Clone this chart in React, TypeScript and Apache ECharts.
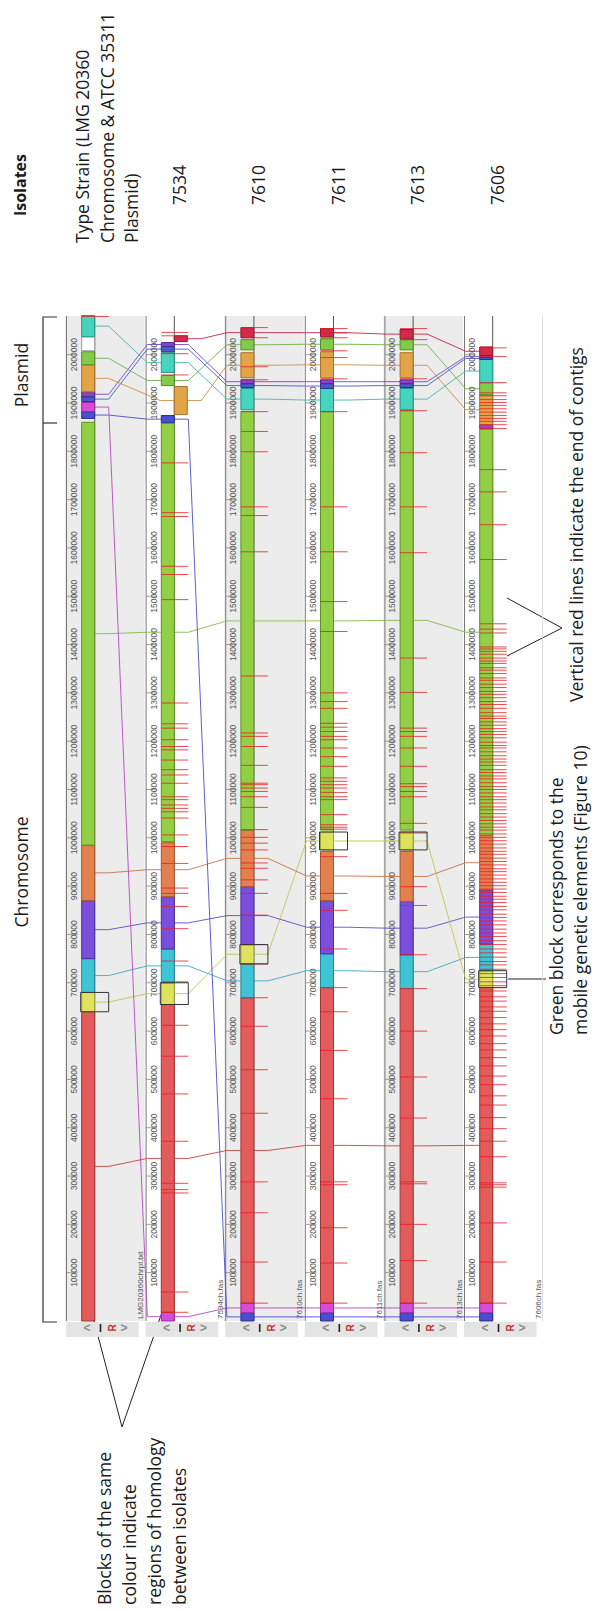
import React, { useEffect, useRef } from "react";
import * as echarts from "echarts";

// ---------------- data ----------------
const trackFiles = ["LMG20360chrpl.txt", "7534ch.fas", "7610ch.fas", "7611ch.fas", "7613ch.fas", "7606ch.fas"];
const typeStrainLines = ["Type Strain (LMG 20360", "Chromosome & ATCC 35311", "Plasmid)"];
const isolateNames = ["7534", "7610", "7611", "7613", "7606"];
const tickValues = [100000, 200000, 300000, 400000, 500000, 600000, 700000, 800000, 900000, 1000000,
  1100000, 1200000, 1300000, 1400000, 1500000, 1600000, 1700000, 1800000, 1900000, 2000000];
const YMAX = 2080000;

const lcbIds = ["R", "Y", "Cy", "Pu", "S", "G", "B1", "M", "B2", "P2", "tan", "G2", "W", "T", "C", "P3"];
const lcbFill = ["#e35b5b", "#dde35c", "#3fc4d6", "#7b4fdc", "#e2804f", "#93cf45", "#4a4fd0", "#d64bd8",
  "#4a58cc", "#8445cc", "#e2a447", "#80cc48", "#ffffff", "#46d4bf", "#d42a4a", "#a444c4"];
const lcbEdge = ["#a83434", "#9ea236", "#23879a", "#4b2aa0", "#a8552d", "#5f9224", "#2a2e94", "#962a98",
  "#2a3490", "#55268f", "#a8722a", "#4f8f28", "#999999", "#23968a", "#941530", "#702a8a"];
const lcbLine = ["#c04646", "#c2c64e", "#3fa8c0", "#6a48c8", "#c8744a", "#8ab850", "#4a50c8", "#b848c0",
  "#4a58c8", "#7848c0", "#c89048", "#70b050", "#bbbbbb", "#40b8a8", "#c02848", "#9040b0"];

// blocks: [lcb, start, end, inverted]
const blocksLMG = [
  ["R", 0, 640000, 0], ["Y", 640000, 680000, 0], ["Cy", 680000, 750000, 0], ["Pu", 750000, 870000, 0],
  ["S", 870000, 985000, 0], ["G", 985000, 1860000, 0], ["B1", 1868000, 1882000, 0], ["M", 1882000, 1901000, 0],
  ["B2", 1903000, 1913000, 0], ["P2", 1913000, 1923000, 0], ["tan", 1923000, 1979000, 0], ["G2", 1979000, 2006000, 0],
  ["W", 2008000, 2037000, 0], ["T", 2037000, 2081000, 0],
];
const blocks7534 = [
  ["M", 0, 18000, 0], ["R", 18000, 655000, 0], ["Y", 655000, 700000, 0], ["Cy", 700000, 770000, 0],
  ["Pu", 770000, 878000, 0], ["S", 878000, 990000, 0], ["G", 992000, 1859000, 0], ["B1", 1859000, 1874000, 0],
  ["tan", 1876000, 1934000, 1], ["G2", 1936000, 1957000, 0], ["T", 1963000, 2004000, 0], ["B2", 2006000, 2017000, 0],
  ["P2", 2017000, 2025000, 0], ["C", 2027000, 2039000, 1],
];
const blocks7610 = [
  ["B1", 0, 17000, 0], ["M", 17000, 37000, 0], ["R", 37000, 669000, 0], ["Cy", 669000, 739000, 0],
  ["Y", 739000, 779000, 0], ["Pu", 779000, 899000, 0], ["S", 899000, 1016000, 0], ["G", 1016000, 1882000, 0],
  ["T", 1886000, 1930000, 0], ["B2", 1932000, 1940000, 0], ["P2", 1940000, 1948000, 0], ["tan", 1952000, 2004000, 0],
  ["G2", 2010000, 2031000, 0], ["C", 2035000, 2056000, 0],
];
const blocks7611 = [
  ["B1", 0, 17000, 0], ["M", 17000, 37000, 0], ["R", 37000, 690000, 0], ["Cy", 690000, 760000, 0],
  ["Pu", 760000, 870000, 0], ["S", 870000, 972000, 0], ["Y", 975000, 1012000, 0], ["G", 1016000, 1882000, 0],
  ["T", 1882000, 1930000, 0], ["B2", 1930000, 1940000, 0], ["P2", 1940000, 1948000, 0], ["tan", 1952000, 2006000, 0],
  ["G2", 2010000, 2033000, 0], ["C", 2037000, 2054000, 0],
];
const blocks7613 = [
  ["B1", 0, 17000, 0], ["M", 17000, 37000, 0], ["R", 37000, 688000, 0], ["Cy", 688000, 758000, 0],
  ["Pu", 758000, 868000, 0], ["S", 868000, 972000, 0], ["Y", 975000, 1012000, 0], ["G", 1016000, 1884000, 0],
  ["T", 1886000, 1930000, 0], ["B2", 1932000, 1940000, 0], ["P2", 1940000, 1948000, 0], ["tan", 1952000, 2004000, 0],
  ["G2", 2010000, 2031000, 0], ["C", 2033000, 2052000, 0],
];
const blocks7606 = [
  ["B1", 0, 17000, 0], ["M", 17000, 37000, 0], ["R", 37000, 690000, 0], ["Y", 690000, 725000, 0],
  ["Cy", 725000, 780000, 0], ["Pu", 780000, 892000, 0], ["S", 892000, 1005000, 0], ["G", 1005000, 1846000, 0],
  ["P3", 1847000, 1855000, 0], ["tan", 1855000, 1917000, 0], ["G2", 1917000, 1942000, 0], ["T", 1942000, 1990000, 0],
  ["B2", 1990000, 1994000, 0], ["P2", 1994000, 1998000, 0], ["C", 1998000, 2016000, 0],
];
const trackBlocks = [blocksLMG, blocks7534, blocks7610, blocks7611, blocks7613, blocks7606];

// contig ends (red lines)
const contigsLMG = [2079000];
const contigs7534 = [2046000, 2039000, 2002000, 1958000, 1776000, 1673000, 1665000, 1562000, 1545000, 1493000,
  1279000, 1236000, 1227000, 1203000, 1189000, 1182000, 1161000, 1141000, 1130000, 1113000, 1085000, 1079000,
  1068000, 1061000, 1054000, 1041000, 1006000, 982000, 947000, 896000, 885000, 858000, 812000, 745000, 702000,
  655000, 612000, 548000, 470000, 372000, 285000, 272000, 265000, 60000, 18000];
const contigs7610 = [2056000, 2035000, 1975000, 1948000, 1882000, 1841000, 1799000, 1685000, 1667000, 1592000,
  1335000, 1217000, 1210000, 1189000, 1150000, 1113000, 1110000, 1103000, 1096000, 1085000, 1063000, 1017000,
  1001000, 989000, 975000, 948000, 937000, 913000, 885000, 840000, 779000, 739000, 669000, 610000, 520000,
  430000, 288000, 224000, 122000, 37000];
const contigs7611 = [2054000, 2045000, 2035000, 2008000, 1994000, 1950000, 1882000, 1685000, 1592000, 1489000,
  1427000, 1300000, 1282000, 1268000, 1237000, 1229000, 1220000, 1210000, 1203000, 1186000, 1168000, 1148000,
  1124000, 1117000, 1110000, 1103000, 1094000, 1085000, 1079000, 1048000, 1027000, 1022000, 1018000, 961000,
  885000, 850000, 770000, 690000, 640000, 560000, 460000, 288000, 282000, 193000, 120000, 37000];
const contigs7613 = [2054000, 2031000, 1950000, 1884000, 1797000, 1685000, 1590000, 1372000, 1301000, 1227000,
  1220000, 1210000, 1186000, 1148000, 1112000, 1106000, 1096000, 1085000, 1030000, 1010000, 899000, 860000,
  758000, 688000, 600000, 505000, 420000, 288000, 284000, 200000, 125000, 37000];
const contigs7606 = [2014000, 1996000, 1942000, 1921000, 1915000, 1907000, 1901000, 1895000, 1888000, 1881000,
  1874000, 1868000, 1862000, 1855000, 1847000, 1762000, 1716000, 1648000, 1576000, 1443000, 1432000, 1424000,
  1395000, 1391000, 1386000, 1380000, 1372000, 1366000, 1361000, 1352000, 1347000, 1340000, 1331000, 1326000,
  1318000, 1311000, 1303000, 1297000, 1290000, 1282000, 1276000, 1268000, 1259000, 1252000, 1247000, 1240000,
  1233000, 1226000, 1220000, 1214000, 1207000, 1198000, 1191000, 1186000, 1178000, 1170000, 1163000, 1157000,
  1150000, 1141000, 1135000, 1128000, 1122000, 1114000, 1106000, 1100000, 1093000, 1085000, 1079000, 1072000,
  1064000, 1058000, 1050000, 1043000, 1036000, 1029000, 1022000, 1016000, 1008000, 1001000, 994000, 987000,
  979000, 972000, 966000, 958000, 951000, 944000, 936000, 930000, 923000, 915000, 908000, 901000, 894000,
  887000, 879000, 873000, 866000, 858000, 851000, 842000, 835000, 828000, 820000, 811000, 803000, 796000,
  787000, 779000, 770000, 762000, 753000, 744000, 737000, 728000, 719000, 711000, 702000, 694000, 683000,
  671000, 662000, 650000, 641000, 628000, 615000, 603000, 590000, 574000, 561000, 545000, 528000, 507000,
  489000, 466000, 447000, 421000, 398000, 372000, 340000, 286000, 282000, 277000, 203000, 122000, 37000];
const trackContigs = [contigsLMG, contigs7534, contigs7610, contigs7611, contigs7613, contigs7606];

// ---------------- layout / style ----------------
const BAR_OFF = 16.7;
const BAR_W = 13;
const CONTIG_EXT = 14;
const RULER_OFF = 1.5;
const FONT = "'Open Sans'";
const ROT = Math.PI / 2;

function rotText(text: string, x: number, y: number, size: number, align: string, extra: any = {}) {
  return {
    type: "text", x, y, rotation: ROT,
    style: {
      text, fill: extra.fill || "#1a1a1a", fontSize: size, fontFamily: extra.family || FONT,
      fontWeight: extra.weight || "normal",
      align, textAlign: align, verticalAlign: "middle", textVerticalAlign: "middle",
    },
  };
}

function buildOption() {
  const panelData = trackFiles.map((_, i) => [i, 0]);
  const tickData: number[][] = [];
  trackFiles.forEach((_, i) => tickValues.forEach((v) => tickData.push([i, v])));
  const blockData: number[][] = [];
  trackBlocks.forEach((bl, i) => bl.forEach((b: any) => blockData.push([i, b[1], b[2], lcbIds.indexOf(b[0]), b[3]])));
  const boxData: number[][] = [];
  trackBlocks.forEach((bl, i) => bl.forEach((b: any) => { if (b[0] === "Y") boxData.push([i, b[1], b[2]]); }));
  const contigData: number[][] = [];
  trackContigs.forEach((cl, i) => cl.forEach((p) => contigData.push([i, p])));
  const connData: number[][] = [];
  for (let i = 0; i < trackBlocks.length - 1; i++) {
    trackBlocks[i].forEach((a: any) => {
      const b: any = trackBlocks[i + 1].find((x: any) => x[0] === a[0]);
      if (!b) return;
      connData.push([i, (a[1] + a[2]) / 2, (b[1] + b[2]) / 2, lcbIds.indexOf(a[0]), a[3], b[3]]);
    });
  }

  const panelSeries = {
    type: "custom", z: 1, silent: true, clip: false, data: panelData,
    renderItem: (params: any, api: any) => {
      const t = api.value(0);
      const top = api.coord([t, YMAX]);
      const bot = api.coord([t, 0]);
      const right = api.coord([t + 1, 0]);
      const x0 = top[0], x1 = right[0];
      const ch: any[] = [];
      if (t % 2 === 0) {
        ch.push({ type: "rect", shape: { x: x0, y: top[1], width: x1 - x0, height: bot[1] - top[1] }, style: { fill: "#ececec" } });
      }
      if (t === trackFiles.length - 1) {
        ch.push({ type: "line", shape: { x1: x1, y1: top[1], x2: x1, y2: bot[1] }, style: { stroke: "#dcdcdc", lineWidth: 1 } });
      }
      ch.push({ type: "line", shape: { x1: x0 + RULER_OFF, y1: top[1], x2: x0 + RULER_OFF, y2: bot[1] }, style: { stroke: "#777", lineWidth: 1 } });
      const cx = x0 + BAR_OFF + BAR_W;
      ch.push({ type: "line", shape: { x1: cx, y1: top[1], x2: cx, y2: bot[1] }, style: { stroke: "#555", lineWidth: 1 } });
      ch.push(rotText(trackFiles[t], x1 - 4, bot[1] - 2, 8, "left", { fill: "#555", family: "'Liberation Sans'" }));
      // controls strip
      const cy = bot[1] + 7;
      ch.push({ type: "rect", shape: { x: x0 + 1, y: bot[1] + 1, width: x1 - x0 - 7, height: 15 }, style: { fill: "#e4e4e4" } });
      ch.push({ type: "text", x: x0 + 22, y: cy, style: { text: "<", fill: "#8a8a8a", fontSize: 12, fontWeight: "bold", fontFamily: "'Liberation Sans'", align: "center", textAlign: "center", verticalAlign: "middle", textVerticalAlign: "middle" } });
      ch.push({ type: "line", shape: { x1: x0 + 35.5, y1: cy - 4, x2: x0 + 35.5, y2: cy + 4 }, style: { stroke: "#222", lineWidth: 1.6 } });
      ch.push(rotText("R", x0 + 47, cy, 10, "center", { fill: "#c03030", weight: "bold", family: "'Liberation Sans'" }));
      ch.push({ type: "text", x: x0 + 59, y: cy, style: { text: ">", fill: "#8a8a8a", fontSize: 12, fontWeight: "bold", fontFamily: "'Liberation Sans'", align: "center", textAlign: "center", verticalAlign: "middle", textVerticalAlign: "middle" } });
      return { type: "group", children: ch };
    },
  };

  const tickSeries = {
    type: "custom", z: 2, silent: true, clip: false, data: tickData,
    renderItem: (params: any, api: any) => {
      const t = api.value(0), v = api.value(1);
      const p = api.coord([t, v]);
      const rx = p[0] + RULER_OFF;
      return {
        type: "group", children: [
          { type: "line", shape: { x1: rx, y1: p[1], x2: rx + 11, y2: p[1] }, style: { stroke: "#888", lineWidth: 0.8 } },
          rotText(String(v), rx + 7.5, p[1], 8.5, "center", { fill: "#555", family: "'Liberation Sans'" }),
        ],
      };
    },
  };

  const connSeries = {
    type: "custom", z: 3, silent: true, clip: false, data: connData,
    renderItem: (params: any, api: any) => {
      const t = api.value(0);
      const pA = api.coord([t, api.value(1)]);
      const pB = api.coord([t + 1, api.value(2)]);
      const c = api.value(3);
      const xA = pA[0] + BAR_OFF + BAR_W * (1 + api.value(4));
      const xB = pB[0] + BAR_OFF + BAR_W * api.value(5);
      return {
        type: "polyline",
        shape: { points: [[xA, pA[1]], [xA + 14, pA[1]], [xB - 14, pB[1]], [xB, pB[1]]] },
        style: { stroke: lcbLine[c], lineWidth: 1, fill: null, opacity: 0.9 },
      };
    },
  };

  const blockSeries = {
    type: "custom", z: 4, silent: true, clip: false, data: blockData,
    renderItem: (params: any, api: any) => {
      const t = api.value(0);
      const p0 = api.coord([t, api.value(1)]);
      const p1 = api.coord([t, api.value(2)]);
      const c = api.value(3);
      const x = p0[0] + BAR_OFF + (api.value(4) ? BAR_W : 0);
      return {
        type: "rect",
        shape: { x, y: p1[1], width: BAR_W, height: Math.max(1, p0[1] - p1[1]) },
        style: { fill: lcbFill[c], stroke: lcbEdge[c], lineWidth: 1 },
      };
    },
  };

  const contigSeries = {
    type: "custom", z: 5, silent: true, clip: false, data: contigData,
    renderItem: (params: any, api: any) => {
      const t = api.value(0);
      const p = api.coord([t, api.value(1)]);
      const x = p[0] + BAR_OFF;
      return {
        type: "line",
        shape: { x1: x, y1: p[1], x2: x + BAR_W + CONTIG_EXT, y2: p[1] },
        style: { stroke: "#e41f26", lineWidth: 1, opacity: 0.8 },
      };
    },
  };

  const boxSeries = {
    type: "custom", z: 6, silent: true, clip: false, data: boxData,
    renderItem: (params: any, api: any) => {
      const t = api.value(0);
      const p0 = api.coord([t, api.value(1)]);
      const p1 = api.coord([t, api.value(2)]);
      const x = p0[0] + BAR_OFF - 1;
      return {
        type: "rect",
        shape: { x, y: p1[1], width: BAR_W + CONTIG_EXT + 1, height: p0[1] - p1[1] },
        style: { fill: null, stroke: "#333", lineWidth: 1 },
      };
    },
  };

  const g: any[] = [];
  g.push(rotText("Isolates", 20, 185, 16, "center", { weight: "bold" }));
  typeStrainLines.forEach((s, k) => g.push(rotText(s, 82 + 24.5 * k, 243, 17.5, "left")));
  isolateNames.forEach((s, k) => g.push(rotText(s, 65 + 79.6 * (k + 1) + 34, 185, 17.5, "center")));
  g.push(rotText("Plasmid", 21, 375, 17.5, "center"));
  g.push(rotText("Chromosome", 21, 872, 17.5, "center"));
  g.push({ type: "polyline", shape: { points: [[57, 317], [43, 317], [43, 1322], [57, 1322]] }, style: { stroke: "#333", lineWidth: 1.2, fill: null } });
  g.push({ type: "line", shape: { x1: 43, y1: 423, x2: 57, y2: 423 }, style: { stroke: "#333", lineWidth: 1.2 } });
  ["Blocks of the same", "colour indicate", "regions of homology", "between isolates"].forEach((s, k) =>
    g.push(rotText(s, 104 + 25 * k, 1605, 17.5, "left")));
  g.push({ type: "polyline", shape: { points: [[88, 1298], [122, 1427], [167, 1298]] }, style: { stroke: "#222", lineWidth: 1, fill: null } });
  g.push(rotText("Vertical red lines indicate the end of contigs", 576, 702, 17.5, "left"));
  g.push({ type: "polyline", shape: { points: [[507, 598], [562, 628], [507, 656]] }, style: { stroke: "#222", lineWidth: 1, fill: null } });
  g.push(rotText("Green block corresponds to the", 556, 1035, 17.5, "left"));
  g.push(rotText("mobile genetic elements (Figure 10)", 580, 1035, 17.5, "left"));
  g.push({ type: "line", shape: { x1: 508, y1: 979, x2: 546, y2: 979 }, style: { stroke: "#222", lineWidth: 1 } });

  return {
    animation: false,
    backgroundColor: "#ffffff",
    grid: { left: 65, top: 316, width: 477.6, height: 1005, containLabel: false },
    xAxis: { type: "value", min: 0, max: 6, show: false },
    yAxis: { type: "value", min: 0, max: YMAX, show: false },
    series: [panelSeries, tickSeries, connSeries, blockSeries, contigSeries, boxSeries],
    graphic: { elements: g },
  };
}

export default function App() {
  const ref = useRef<HTMLDivElement>(null);
  useEffect(() => {
    if (!ref.current) return;
    const chart = echarts.init(ref.current, null, { renderer: "svg" });
    chart.setOption(buildOption() as any);
    return () => chart.dispose();
  }, []);
  return (
    <div
      ref={ref}
      style={{ position: "absolute", left: 0, top: 0, width: 607, height: 1611, background: "#fff" }}
    />
  );
}
